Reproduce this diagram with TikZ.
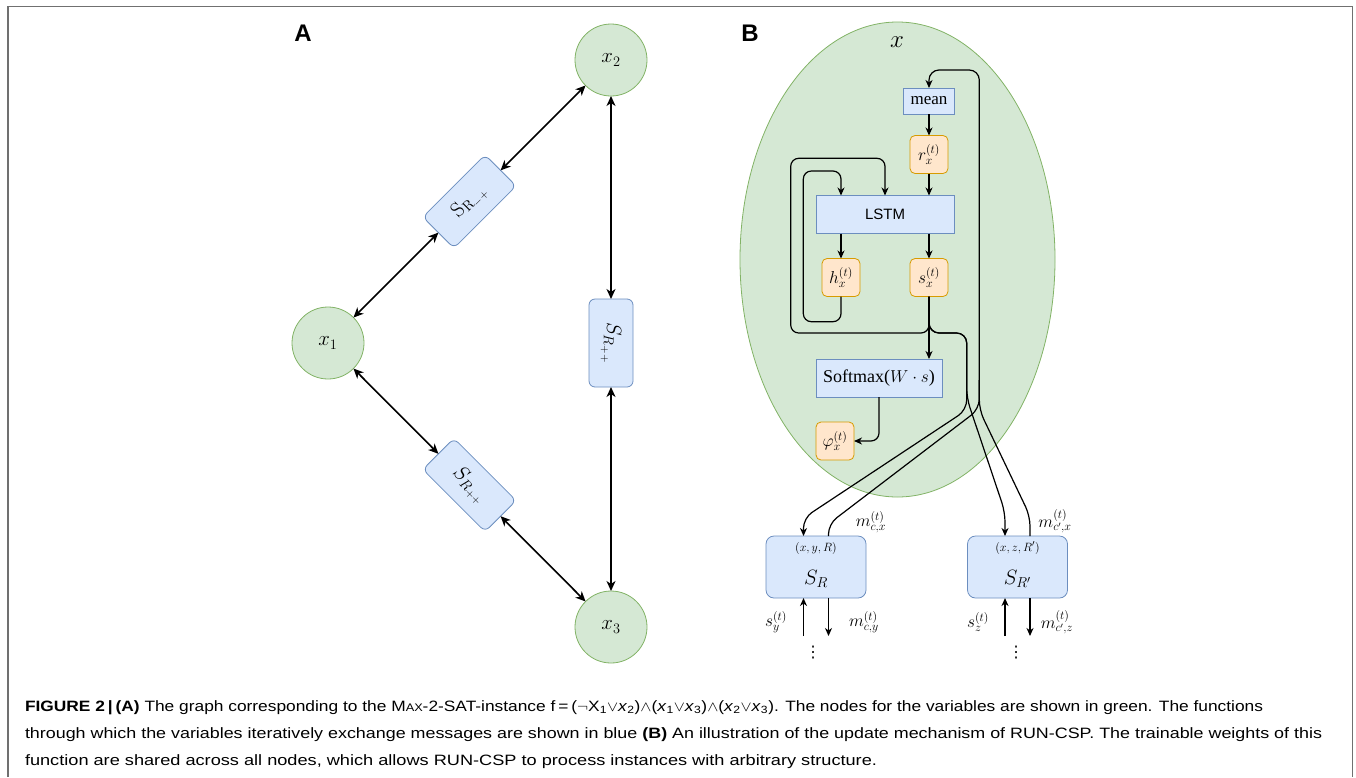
\documentclass[tikz,border=0pt]{standalone}
\usepackage[no-math]{fontspec}
\setmainfont{Liberation Sans}
\newfontfamily\tms{Liberation Serif}
\newfontfamily\djv{DejaVu Sans}
\usepackage{graphicx}
\usetikzlibrary{arrows.meta,shapes.geometric,calc}
\definecolor{gfill}{HTML}{D5E8D4}
\definecolor{gline}{HTML}{82B366}
\definecolor{bfill}{HTML}{DAE8FC}
\definecolor{bline}{HTML}{6C8EBF}
\definecolor{ofill}{HTML}{FFE6CC}
\definecolor{oline}{HTML}{D79B00}
\definecolor{framec}{HTML}{707070}
\newcommand\fsz[1]{\fontsize{#1}{#1}\selectfont}
\begin{document}
\begin{tikzpicture}[x=1pt,y=-1pt,
  every node/.style={inner sep=0pt, outer sep=0pt},
  varnode/.style={circle, draw=gline, fill=gfill, line width=0.8pt, minimum size=72pt, font=\fsz{21}},
  fnA/.style={rectangle, rounded corners=6pt, draw=bline, fill=bfill, line width=0.8pt,
              minimum width=88pt, minimum height=44pt, font=\fsz{22}},
  arrA/.style={line width=1.6pt, {Stealth[length=10pt,width=9pt,inset=3pt]}-{Stealth[length=10pt,width=9pt,inset=3pt]}},
  bbox/.style={rectangle, draw=bline, fill=bfill, line width=0.8pt},
  obox/.style={rectangle, rounded corners=5pt, draw=oline, fill=ofill, line width=0.8pt,
               minimum size=38pt, font=\fsz{17}},
  cbox/.style={rectangle, rounded corners=8pt, draw=bline, fill=bfill, line width=0.8pt,
               minimum width=100pt, minimum height=62pt},
  wire/.style={line width=1.2pt, rounded corners=8pt},
  arrB/.style={wire, -{Stealth[length=8pt,width=7pt,inset=2.5pt]}},
  lbl/.style={font=\fsz{17}},
  panel/.style={font=\fsz{24}\bfseries},
  capline/.style={anchor=base west, font=\fsz{15}},
]
\path[use as bounding box] (0,0) rectangle (1356,777);

% outer frame
\draw[framec, line width=1.8pt] (8,777) -- (8,6.5) -- (1352.5,6.5) -- (1352.5,777);

% ---------- panel A: variables and constraint functions ----------
\node[panel] (pa) at (303,33) {A};
\node[varnode] (x1) at (328,343) {$x_1$};
\node[varnode] (x2) at (611,60) {$x_2$};
\node[varnode] (x3) at (611,627) {$x_3$};
\node[fnA, rotate=45] (f12) at (469.5,201.5) {$\mathrm{S}_{\mathrm{R}_{-+}}$};
\node[fnA, rotate=-90] (f23) at (611,343) {$S_{R_{++}}$};
\node[fnA, rotate=-45] (f13) at (469.5,485) {$S_{R_{++}}$};
\draw[arrA] (x1) -- (f12);
\draw[arrA] (f12) -- (x2);
\draw[arrA] (x2) -- (f23);
\draw[arrA] (f23) -- (x3);
\draw[arrA] (x1) -- (f13);
\draw[arrA] (f13) -- (x3);

% ---------- panel B: update of one variable ----------
\node[panel] (pb) at (750,33) {B};
\node[ellipse, draw=gline, fill=gfill, line width=0.8pt, minimum width=315pt, minimum height=475pt] (ell) at (897.5,259.5) {};
\node[font=\fsz{24}] (xlab) at (897,42) {$x$};

\node[bbox, minimum width=51pt, minimum height=26pt, font=\fsz{17}\tms] (mean) at (929,101) {mean};
\node[obox] (r) at (929,154.5) {$r_x^{(t)}$};
\node[bbox, minimum width=138pt, minimum height=38pt, font=\fsz{15}] (lstm) at (885,214.5) {LSTM};
\node[obox] (h) at (841,277.5) {$h_x^{(t)}$};
\node[obox] (s) at (929,277.5) {$s_x^{(t)}$};
\node[bbox, minimum width=126pt, minimum height=38pt, font=\fsz{18}\tms] (sm) at (879,378) {Softmax($W\cdot s$)};
\node[obox] (phi) at (835,441) {$\varphi_x^{(t)}$};

\node[cbox] (SR) at (816,567) {};
\node[font=\fsz{12.5}] (SRt) at (816,548) {$(x,y,R)$};
\node[font=\fsz{22}] (SRl) at (816,579) {$S_R$};
\node[cbox] (SRp) at (1017.5,567) {};
\node[font=\fsz{12.5}] (SRpt) at (1017.5,548) {$(x,z,R')$};
\node[font=\fsz{22}] (SRpl) at (1017.5,579) {$S_{R'}$};

% internal data flow
\draw[arrB] (mean) -- (r);
\draw[arrB] (r) -- (r.south |- lstm.north);
\draw[arrB] (h.north |- lstm.south) -- (h);
\draw[arrB] (s.north |- lstm.south) -- (s);
\draw[arrB] (s.south) -- (s.south |- sm.north);
\draw[arrB] (sm.south) |- (phi.east);
% recurrent state loops
\draw[arrB] (s.south) -- (929,333) -- (790.7,333) -- (790.7,158.3) -- (885,158.3) -- (lstm.north);
\draw[arrB] (h.south) -- (841,321.7) -- (803.3,321.7) -- (803.3,171) -- (841,171) -- (h.north |- lstm.north);
% messages sent to the constraints
\draw[arrB, rounded corners=10pt] (s.south) -- (929,333) -- (966.7,333) -- (966.7,410) -- (803.5,518) -- ($(SR.north)+(-12.5,0)$);
\draw[arrB, rounded corners=10pt] (s.south) -- (929,333) -- (966.7,333) -- (966.7,398) -- (1005,512) -- ($(SRp.north)+(-12.5,0)$);
% messages received from the constraints
\draw[arrB, rounded corners=10pt] ($(SR.north)+(12.5,0)$) -- (828.5,524) -- (979.3,409) -- (979.3,70) -- (929,70) -- (mean.north);
\draw[wire, rounded corners=10pt] ($(SRp.north)+(12.5,0)$) -- (1030,516) -- (979.3,410) -- (979.3,380);

\node[lbl] (mcx) at (871,522) {$m_{c,x}^{(t)}$};
\node[lbl] (mcpx) at (1055,521) {$m_{c',x}^{(t)}$};

% traffic below the constraints
\coordinate (syin) at (803.5,636);
\coordinate (mcyout) at (828.5,636);
\coordinate (szin) at (1005,636);
\coordinate (mczout) at (1030,636);
\draw[arrB] (syin) -- ($(SR.south)+(-12.5,0)$);
\draw[arrB] ($(SR.south)+(12.5,0)$) -- (mcyout);
\draw[arrB] (szin) -- ($(SRp.south)+(-12.5,0)$);
\draw[arrB] ($(SRp.south)+(12.5,0)$) -- (mczout);
\node[lbl] (sy) at (776,622) {$s_y^{(t)}$};
\node[lbl] (mcy) at (864,622) {$m_{c,y}^{(t)}$};
\node[lbl] (sz) at (978,622) {$s_z^{(t)}$};
\node[lbl] (mcz) at (1057,622) {$m_{c',z}^{(t)}$};
\node[font=\fsz{16}\djv] (d1) at (813,653) {⋮};
\node[font=\fsz{16}\djv] (d2) at (1016,653) {⋮};

% ---------- caption ----------
\node[capline] (cap1) at (25,711) {\resizebox{1238pt}{\height}{\textbf{FIGURE 2\,|\,(A)} The graph corresponding to the M{\fsz{11}AX}-2-SAT-instance f\,=\,($\neg$X\textsubscript{1}$\vee$\textit{x}\textsubscript{2})$\wedge$(\textit{x}\textsubscript{1}$\vee$\textit{x}\textsubscript{3})$\wedge$(\textit{x}\textsubscript{2}$\vee$\textit{x}\textsubscript{3}). The nodes for the variables are shown in green. The functions}};
\node[capline] (cap2) at (25,738) {\resizebox{1297pt}{\height}{through which the variables iteratively exchange messages are shown in blue \textbf{(B)} An illustration of the update mechanism of RUN-CSP. The trainable weights of this}};
\node[capline] (cap3) at (25,765) {\resizebox{852pt}{\height}{function are shared across all nodes, which allows RUN-CSP to process instances with arbitrary structure.}};
\end{tikzpicture}
\end{document}
